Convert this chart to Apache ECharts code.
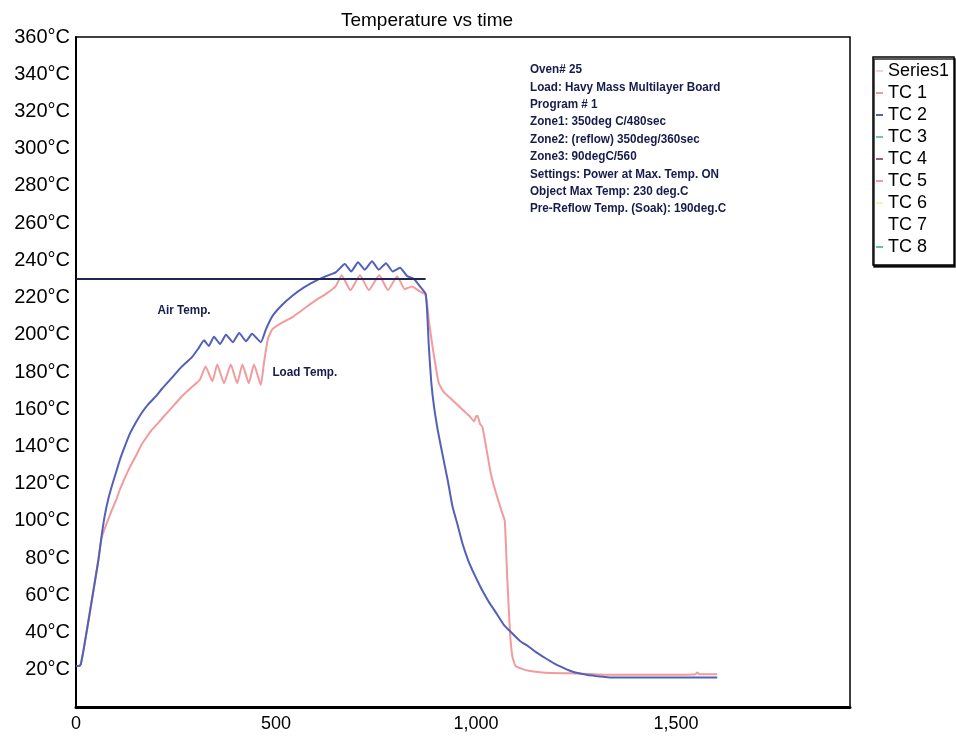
<!DOCTYPE html>
<html>
<head>
<meta charset="utf-8">
<script src="https://cdn.jsdelivr.net/npm/echarts@6/dist/echarts.min.js"></script>
<style>
html,body{margin:0;padding:0;background:#fff;}
#chart{width:956px;height:738px;}
</style>
</head>
<body>
<div id="chart"></div>
<script>
// ---- data ----
const airTime = [0, 8, 12, 20, 37, 56, 64, 72, 81, 90, 100, 110, 122, 135, 150, 164, 180, 200, 215, 240, 265, 290, 307, 320, 332, 345, 360, 375, 392, 408, 425, 440, 462, 475, 491, 515, 541, 570, 599, 625, 649, 672, 688, 705, 722, 740, 757, 775, 792, 810, 828, 845, 860, 874, 878, 882, 888, 895, 905, 916, 930, 941, 955, 966, 980, 991, 1010, 1020, 1032, 1049, 1070, 1091, 1110, 1132, 1150, 1174, 1195, 1216, 1235, 1257, 1280, 1299, 1320, 1341, 1400, 1500, 1603];
const airTemp = [22, 22, 23, 32, 54, 79, 92, 103, 112, 119, 126, 133, 140, 147, 153, 158, 162.5, 167, 171, 177, 183, 188, 193, 197, 194, 199, 195, 200, 196, 201, 196.5, 200.5, 196, 203, 210, 216, 221, 225.5, 229, 231.5, 233.5, 238, 234, 239, 235, 239.5, 235, 238.5, 234, 236, 231.5, 230, 226, 222, 212, 194, 175, 161.5, 148, 136, 121, 108, 97, 88, 79, 73.5, 65, 61, 56.5, 51, 44, 39.5, 35.5, 32.4, 29.5, 26.2, 23.5, 21.3, 19.5, 18.1, 17.2, 16.7, 16.2, 15.8, 15.8, 15.8, 15.8];

const loadTime = [0, 8, 12, 20, 37, 56, 64, 72, 81, 90, 100, 110, 122, 135, 150, 164, 178, 190, 205, 215, 240, 265, 290, 310, 324, 341, 353, 370, 387, 403, 416, 432, 445, 462, 470, 480, 491, 515, 541, 570, 599, 625, 649, 664, 686, 710, 732, 758, 780, 803, 822, 840, 858, 874, 882, 891, 900, 907, 920, 941, 965, 985, 995, 1000, 1004, 1010, 1016, 1025, 1037, 1050, 1066, 1072, 1078, 1085, 1091, 1099, 1115, 1132, 1174, 1257, 1341, 1548, 1553, 1558, 1603];
const loadTemp = [22, 22, 23, 32, 54, 79, 91, 96, 101, 106, 111, 117, 123, 129, 135, 141, 145.5, 149, 152.5, 155, 161, 167, 172, 176, 183, 175, 184, 174, 184, 174, 184, 174, 184, 173, 185, 198, 203, 206.5, 209.5, 214, 218.5, 222, 226, 232, 224, 232, 224, 232, 224, 231.5, 224.5, 226, 223.5, 221.5, 208, 194, 182, 174, 169, 165, 160, 156, 153.5, 156, 156.5, 152, 150.5, 140, 125.5, 115, 104, 100, 70, 40, 27, 22, 20.5, 19.5, 18.4, 18, 17.3, 17.5, 18.5, 17.6, 17.6];

const maxLineTime = [0, 874];
const maxLineTemp = [230, 230];

const legendNames = ['Series1', 'TC 1', 'TC 2', 'TC 3', 'TC 4', 'TC 5', 'TC 6', 'TC 7', 'TC 8'];
const legendColors = ['#f3d3da', '#f29a9c', '#5260b8', '#6ccaa6', '#9a5d84', '#f29ab2', '#f3efb8', '#ffffff', '#5cc79d'];

const yTicks = { min: 0, max: 360, step: 20 };
const xTicks = { min: 0, max: 1935, step: 500 };

const infoLines = [
  'Oven# 25',
  'Load: Havy Mass Multilayer Board',
  'Program # 1',
  'Zone1: 350deg C/480sec',
  'Zone2: (reflow) 350deg/360sec',
  'Zone3: 90degC/560',
  'Settings: Power at Max. Temp. ON',
  'Object Max Temp: 230 deg.C',
  'Pre-Reflow Temp. (Soak): 190deg.C'
];
const curveLabels = ['Air Temp.', 'Load Temp.'];
const curveLabelAt = [[270, 213], [572, 180]];

// ---- build ----
const zip = (a, b) => a.map((v, i) => [v, b[i]]);
const sans = "'Liberation Sans',Arial,sans-serif";
const noteFont = "bold 13px 'Liberation Sans',Arial,sans-serif";
const noteColor = '#151b4d';

const series = legendNames.map((n, i) => ({
  name: n, type: 'line', data: [], showSymbol: false, smooth: 0.15,
  lineStyle: { color: legendColors[i], width: 2 }, itemStyle: { color: legendColors[i] }
}));
series[1].data = zip(loadTime, loadTemp);
series[2].data = zip(airTime, airTemp);
const ordered = [series[0], series[1], series[3], series[4], series[5], series[6], series[7], series[8], series[2]];
ordered.push({
  name: 'Max', type: 'line', data: zip(maxLineTime, maxLineTemp), showSymbol: false,
  lineStyle: { color: '#1f2657', width: 2 }, z: 5
});

const chart = echarts.init(document.getElementById('chart'), null, { renderer: 'canvas' });
chart.setOption({
  animation: false,
  backgroundColor: '#fff',
  title: {
    text: 'Temperature vs time', left: 422, top: 6, textAlign: 'center',
    textStyle: { fontFamily: sans, fontSize: 19, fontWeight: 'normal', color: '#000' }
  },
  legend: {
    data: legendNames, orient: 'vertical', left: 873, top: 57,
    padding: [5, 5, 9, 3], itemGap: 4, itemWidth: 7, itemHeight: 2, icon: 'rect',
    borderColor: '#000', borderWidth: 1.5, backgroundColor: '#fff',
    shadowColor: 'rgba(0,0,0,0.85)', shadowOffsetX: 1, shadowOffsetY: 2, shadowBlur: 0,
    textStyle: { fontFamily: sans, fontSize: 18, color: '#000', lineHeight: 18 },
    selectedMode: false
  },
  grid: { left: 76, right: 106, top: 37, bottom: 31, show: true, borderColor: '#000', borderWidth: 1.5 },
  xAxis: {
    type: 'value', min: xTicks.min, max: xTicks.max, interval: xTicks.step,
    axisLine: { show: true, lineStyle: { color: '#000', width: 3 } },
    axisTick: { show: false }, splitLine: { show: false },
    axisLabel: {
      showMaxLabel: false, margin: 8, color: '#000', fontFamily: sans, fontSize: 18,
      formatter: v => v.toLocaleString('en-US')
    }
  },
  yAxis: {
    type: 'value', min: yTicks.min, max: yTicks.max, interval: yTicks.step,
    axisLine: { show: true, lineStyle: { color: '#000', width: 2 } },
    axisTick: { show: false }, splitLine: { show: false },
    axisLabel: {
      margin: 6, color: '#000', fontFamily: sans, fontSize: 20,
      formatter: v => v === 0 ? '' : v + '°C'
    }
  },
  series: ordered
});

// annotations (narrowed bold text), positioned through the chart's own scales
const graphics = [{
  type: 'text', x: 530, y: 61, scaleX: 0.9, z: 10,
  style: { text: infoLines.join('\n'), fill: noteColor, font: noteFont, lineHeight: 17.4 }
}];
curveLabels.forEach((t, i) => {
  const p = chart.convertToPixel({ gridIndex: 0 }, curveLabelAt[i]);
  graphics.push({
    type: 'text', x: p[0], y: p[1], scaleX: 0.9, z: 10,
    style: { text: t, fill: noteColor, font: noteFont, align: 'center', verticalAlign: 'middle' }
  });
});
chart.setOption({ graphic: graphics });
</script>
</body>
</html>
